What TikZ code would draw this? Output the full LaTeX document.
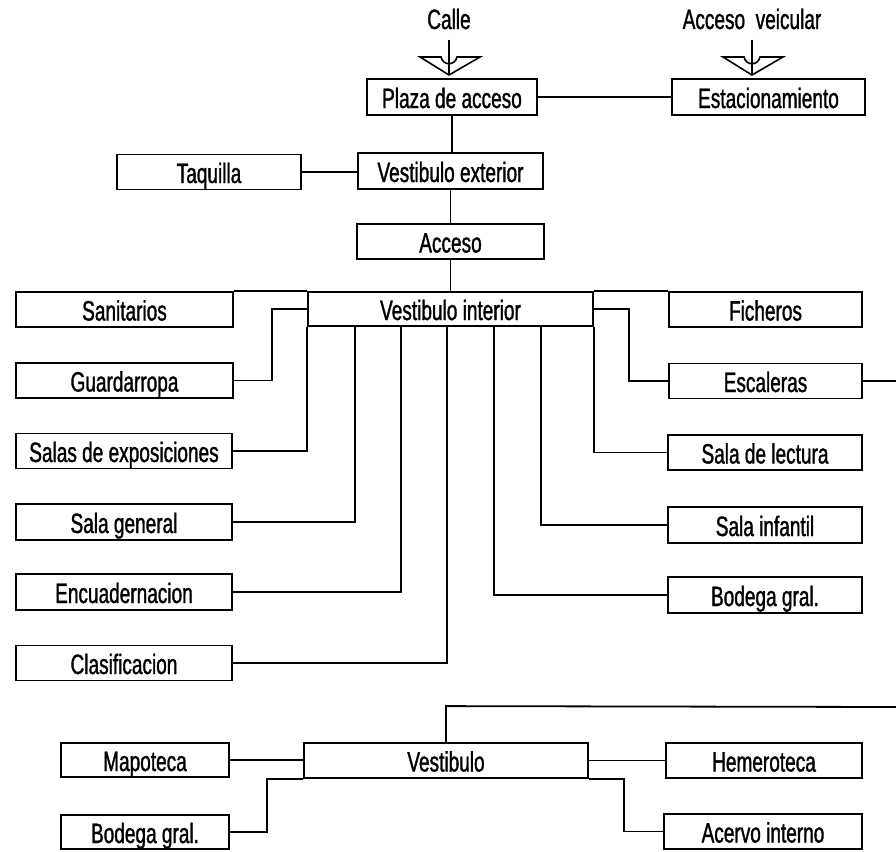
\documentclass[tikz,border=0pt]{standalone}
\usepackage{fontspec}
\setmainfont{Liberation Sans}[FakeStretch=0.68,FakeBold=1.2]
\begin{document}
\begin{tikzpicture}[x=1pt,y=-1pt,
  box/.style={draw,line width=1.8pt,inner sep=0pt,minimum height=35pt,text height=23pt,text depth=1pt,font=\fontsize{28}{30}\selectfont},
  lab/.style={inner sep=0pt,text height=23pt,text depth=1pt,font=\fontsize{28}{30}\selectfont},
  conn/.style={line width=1.8pt},
  pics/entry/.style={code={
    \draw[line width=1.6pt] (0,-35) -- (0,0);
    \draw[line width=1.6pt,line join=miter] (-29,-18) -- (-8,-18) .. controls (-6,-9) and (6,-9) .. (8,-18) -- (31,-18) -- (0,0) -- cycle;
  }}]
\useasboundingbox (0,0) rectangle (896,851);

% top labels and entry arrows
\node[lab] (calle) at (449,18) {Calle};
\node[lab] (veic) at (752,18) {Acceso\ \ veicular};
\pic at (449,75) {entry};
\pic at (752,75) {entry};

% boxes
\node[box,minimum width=170pt,minimum height=36pt] (plaza) at (452,97) {Plaza de acceso};
\node[box,minimum width=193pt,minimum height=36pt] (estac) at (768.5,97) {Estacionamiento};
\node[box,minimum width=184pt] (taq) at (209,172) {Taquilla};
\node[box,minimum width=185pt,minimum height=36pt] (vext) at (450.5,171) {Vestibulo exterior};
\node[box,minimum width=187pt] (acceso) at (450.5,241.5) {Acceso};

\node[box,minimum width=285pt,minimum height=34pt] (vint) at (450.5,309) {Vestibulo interior};
\node[box,minimum width=217pt] (sanit) at (124.5,309.5) {Sanitarios};
\node[box,minimum width=193pt] (fich) at (765.5,309.5) {Ficheros};
\node[box,minimum width=217pt] (guard) at (124.5,380.5) {Guardarropa};
\node[box,minimum width=193pt] (esc) at (765.5,381) {Escaleras};
\node[box,minimum width=216pt] (salas) at (124,451) {Salas de exposiciones};
\node[box,minimum width=194pt] (lect) at (765,452.5) {Sala de lectura};
\node[box,minimum width=216pt,minimum height=36pt] (sgen) at (124,522) {Sala general};
\node[box,minimum width=194pt,minimum height=36pt] (infant) at (765,525) {Sala infantil};
\node[box,minimum width=216pt,minimum height=36pt] (encu) at (124,592) {Encuadernacion};
\node[box,minimum width=194pt,minimum height=36pt] (bod1) at (765,595) {Bodega gral.};
\node[box,minimum width=216pt] (clasif) at (124,663) {Clasificacion};

\node[box,minimum width=284pt] (vest) at (446,760.5) {Vestibulo};
\node[box,minimum width=168pt,minimum height=34pt] (mapo) at (145,760) {Mapoteca};
\node[box,minimum width=196pt] (hemero) at (764,760.5) {Hemeroteca};
\node[box,minimum width=168pt,minimum height=34pt] (bod2) at (145,832) {Bodega gral.};
\node[box,minimum width=198pt] (acervo) at (763,831.5) {Acervo interno};

\coordinate (escR) at (896,381);
\coordinate (vtopR) at (896,707);

% connectors
\draw[conn] (plaza.east) -- (estac.west);
\draw[conn] (plaza.south) -- (plaza.south |- vext.north);
\draw[conn] (taq.east) -- (taq.east -| vext.west);
\draw[conn] (vext.south) -- (acceso.north);
\draw[conn] (acceso.south) -- (vint.north);
\draw[conn] (sanit.north east) -- (vint.north west);
\draw[conn] (vint.north east) -- (fich.north west);
\draw[conn] (vint.west) -- ++(-35,0) |- (guard.east);
\draw[conn] (vint.east) -- ++(35,0) |- (esc.west);
\draw[conn] (esc.east) -- (escR);
\draw[conn] (vint.south west) |- (salas.east);
\draw[conn] ([xshift=48pt]vint.south west) |- (sgen.east);
\draw[conn] ([xshift=94pt]vint.south west) |- (encu.east);
\draw[conn] ([xshift=140pt]vint.south west) |- (clasif.east);
\draw[conn] ([xshift=187pt]vint.south west) |- (bod1.west);
\draw[conn] ([xshift=234pt]vint.south west) |- (infant.west);
\draw[conn] (vint.south east) |- (lect.west);

\draw[conn] (vest.north) -- ++(0,-36) -- (vtopR);
\draw[conn] (mapo.east) -- (mapo.east -| vest.west);
\draw[conn] (vest.east) -- (hemero.west);
\draw[conn] (vest.south west) -- ++(-36,0) |- (bod2.east);
\draw[conn] (vest.south east) -- ++(35,0) |- (acervo.west);
\end{tikzpicture}
\end{document}
